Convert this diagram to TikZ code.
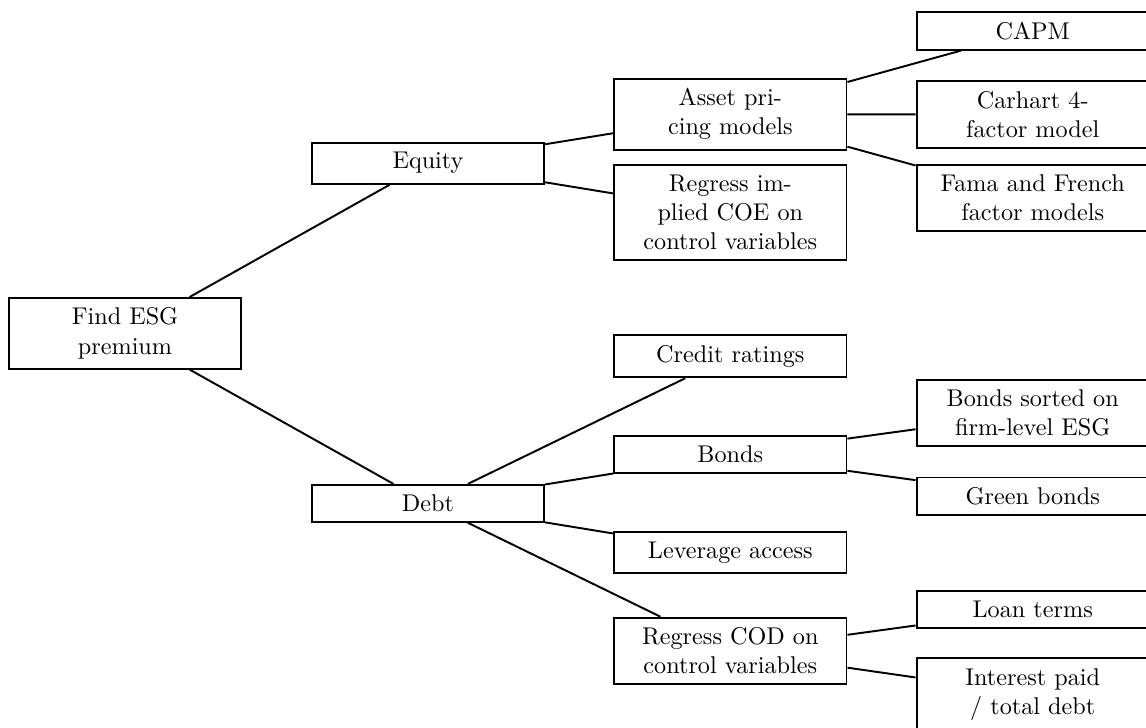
\documentclass[tikz,border=0pt]{standalone}
\begin{document}
\begin{tikzpicture}[x=0.4132pt,y=-0.4132pt,
  box/.style={draw, line width=0.8pt, text width=88pt, align=center, inner xsep=4pt, inner ysep=4.1pt},
  link/.style={line width=0.8pt}]
\clip (0,0) rectangle (1146,727);
\node[box] (esg) at (125,333.3) {Find ESG\\premium};
\node[box] (equity) at (428,163.2) {Equity};
\node[box] (debt) at (428,503.3) {Debt};
\node[box] (asset) at (730.3,114.3) {Asset pri-\\cing models};
\node[box] (coe) at (730.3,212.5) {Regress im-\\plied COE on\\control variables};
\node[box] (credit) at (730.3,356.3) {Credit ratings};
\node[box] (bonds) at (730.3,454.7) {Bonds};
\node[box] (leverage) at (730.3,552.5) {Leverage access};
\node[box] (cod) at (730.3,650.8) {Regress COD on\\control variables};
\node[box] (capm) at (1032.7,30.8) {CAPM};
\node[box] (carhart) at (1032.7,114.5) {Carhart 4-\\factor model};
\node[box] (fama) at (1032.7,197.8) {Fama and French\\factor models};
\node[box] (bsorted) at (1032.7,413.2) {Bonds sorted on\\firm-level ESG};
\node[box] (green) at (1032.7,496.2) {Green bonds};
\node[box] (loan) at (1032.7,609.5) {Loan terms};
\node[box] (interest) at (1032.7,694.3) {Interest paid\\/ total debt};
\draw[link] (esg) -- (equity);
\draw[link] (esg) -- (debt);
\draw[link] (equity) -- (asset);
\draw[link] (equity) -- (coe);
\draw[link] (asset) -- (capm);
\draw[link] (asset) -- (carhart);
\draw[link] (asset) -- (fama);
\draw[link] (debt) -- (credit);
\draw[link] (debt) -- (bonds);
\draw[link] (debt) -- (leverage);
\draw[link] (debt) -- (cod);
\draw[link] (bonds) -- (bsorted);
\draw[link] (bonds) -- (green);
\draw[link] (cod) -- (loan);
\draw[link] (cod) -- (interest);
\end{tikzpicture}
\end{document}
